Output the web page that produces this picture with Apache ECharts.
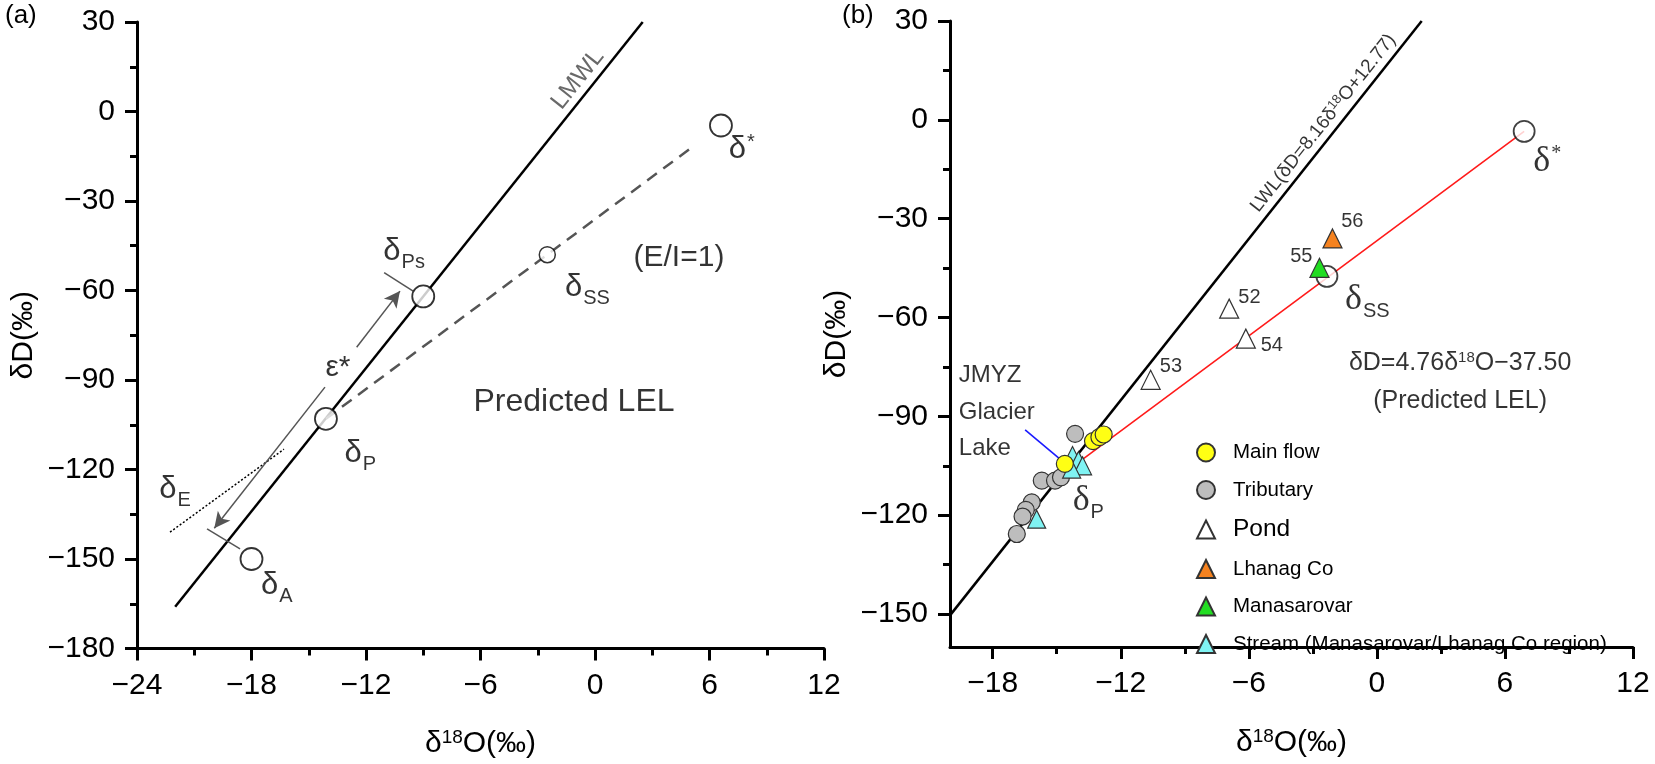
<!DOCTYPE html>
<html>
<head>
<meta charset="utf-8">
<script src="https://cdn.jsdelivr.net/npm/echarts@6/dist/echarts.min.js"></script>
<style>
  html, body { margin: 0; padding: 0; background: #fff; }
  #chart { width: 1655px; height: 764px; }
</style>
</head>
<body>
<div id="chart"></div>
<script>
// ---- panel (a): conceptual LEL diagram ----
const aTickLabelsY = [30, 0, -30, -60, -90, -120, -150, -180];
const aLMWL = [[-22, -166], [2.5, 30]];
const aLEL = [[-14.1, -103], [5.25, -11.2]];
const aDeltaE = [[-22.27, -141], [-16.3, -113.2]];
const aEpsUp = [[-12.49, -79], [-10.22, -60.2]];
const aEpsDown = [[-14.15, -92.4], [-19.95, -139.7]];
const aTickPs = [[-11.05, -54], [-9.53, -60.2]];
const aTickA = [[-20.33, -139.9], [-18.6, -146.6]];
const aBigPoints = [[-9.0, -62], [-14.1, -103], [-18, -150], [6.6, -4.7]];   // δPs, δP, δA, δ*
const aSmallPoints = [[-2.5, -48]];                                             // δSS

// ---- panel (b): observed waters ----
const bTicksX = [-18, -12, -6, 0, 6, 12];
const bMinorX = [-15, -9, -3, 3, 9];
const bTicksY = [-150, -120, -90, -60, -30, 0, 30];
const bMinorY = [-135, -105, -75, -45, -15, 15];
const bLWL = [[-20, -150.4], [2.1, 30]];
const bLEL = [[-14.8, -107.9], [6.9, -3.5]];
const bPointer = [[-16.48, -94.1], [-14.76, -103.4]];
const bRefPoints = [[-2.34, -47.5], [6.9, -3.5]];                               // δSS, δ*
const bMainFlow = [[-14.62, -104.4], [-13.3, -97.5], [-13.0, -96.3], [-12.8, -95.5]];
const bTributary = [[-14.14, -95.3], [-15.7, -109.5], [-15.08, -109.5], [-14.8, -108.5],
  [-16.17, -116.1], [-16.45, -118.4], [-16.6, -120.4], [-16.87, -125.7]];
const bPond = [[-6.92, -57.3], [-6.14, -66.4], [-10.6, -78.9]];
const bLhanag = [[-2.08, -36]];
const bManasarovar = [[-2.69, -44.9]];
const bStream = [[-14.26, -101.9], [-13.98, -103.4], [-13.79, -105], [-14.3, -106], [-15.94, -121.2]];

// text annotations: [x, y, rich text]
const aNotes = [
  [-10.0, -47, '{d|δ}{sub|Ps}'],
  [-0.4, -59, '{d|δ}{sub|SS}'],
  [4.4, -49, '{t|(E/I=1)}'],
  [-1.1, -97.3, '{tb|Predicted LEL}'],
  [-12.3, -114.5, '{d|δ}{sub|P}'],
  [-22.0, -126.6, '{d|δ}{sub|E}'],
  [-16.68, -158.8, '{d|δ}{sub|A}'],
  [7.69, -12.7, '{d|δ}{sup|*}'],
  [-13.47, -86, '{t|ε*}']
];
const aLineNote = [[-0.9, 10.8, 'LMWL']];
const bNotes = [
  [-0.45, -54.5, '{ds|δ}{subs|SS}'],
  [7.98, -12.8, '{ds|δ}{sups|*}'],
  [-13.52, -115.6, '{ds|δ}{subs|P}'],
  [-5.97, -53.8, '{n|52}'],
  [-4.92, -68.5, '{n|54}'],
  [-9.65, -74.9, '{n|53}'],
  [-3.54, -41.4, '{n|55}'],
  [-1.15, -30.8, '{n|56}'],
  [3.9, -73.8, '{e|δD=4.76δ}{esup|18}{e|O−37.50}'],
  [3.9, -85.3, '{e|(Predicted LEL)}']
];
const bLakeNote = [[-19.6, -77.6, 'JMYZ'], [-19.6, -88.8, 'Glacier'], [-19.6, -99.8, 'Lake']];
const bLineNote = [[-2.51, -1.0, '{w|LWL(δD=8.16δ}{wsup|18}{w|O+12.77)}']];

const FONT = 'Liberation Sans, Arial, sans-serif';
const SERIF = 'Liberation Serif, Times New Roman, serif';
const INK = '#000';
const RICH = {
  d: { fontSize: 31, fontFamily: FONT, color: INK },
  sub: { fontSize: 20, fontFamily: FONT, color: INK, padding: [22, 0, 0, 1] },
  sup: { fontSize: 20, fontFamily: FONT, color: INK, padding: [0, 0, 14, 1] },
  t: { fontSize: 30, fontFamily: FONT, color: INK },
  tb: { fontSize: 32, fontFamily: FONT, color: INK },
  ds: { fontSize: 36, fontFamily: SERIF, color: INK },
  subs: { fontSize: 20, fontFamily: FONT, color: INK, padding: [24, 0, 0, 1] },
  sups: { fontSize: 20, fontFamily: SERIF, color: INK, padding: [0, 0, 16, 1] },
  n: { fontSize: 20, fontFamily: FONT, color: INK },
  e: { fontSize: 25, fontFamily: FONT, color: INK },
  esup: { fontSize: 15, fontFamily: FONT, color: INK, padding: [0, 0, 10, 0] },
  w: { fontSize: 19, fontFamily: FONT, color: INK },
  wsup: { fontSize: 13, fontFamily: FONT, color: INK, padding: [0, 0, 8, 0] },
  ax: { fontSize: 30, fontFamily: FONT, color: INK },
  axsup: { fontSize: 19, fontFamily: FONT, color: INK, padding: [0, 0, 12, 0] }
};

const minus = v => String(v).replace('-', '−');

function lineSeries(xi, yi, data, style) {
  return {
    type: 'line', xAxisIndex: xi, yAxisIndex: yi, data: data,
    showSymbol: false, symbol: 'none', silent: true, z: 2,
    lineStyle: style
  };
}

function arrowSeries(xi, yi, data) {
  return {
    type: 'line', xAxisIndex: xi, yAxisIndex: yi, data: [], silent: true,
    markLine: {
      silent: true, animation: false, symbol: ['none', 'arrow'], symbolSize: [12, 16],
      label: { show: false },
      lineStyle: { color: '#555', width: 1.5, type: 'solid' },
      data: [[{ coord: data[0] }, { coord: data[1] }]]
    }
  };
}

function textSeries(xi, yi, notes, label) {
  return {
    type: 'scatter', xAxisIndex: xi, yAxisIndex: yi, silent: true, z: 6,
    symbol: 'rect', symbolSize: 0.5, itemStyle: { color: '#fff' },
    data: notes.map(n => ({ value: [n[0], n[1]], label: { formatter: n[2] } })),
    label: Object.assign({ show: true, position: 'inside', color: INK, textBorderWidth: 0, rich: RICH }, label)
  };
}

function pointSeries(name, data, symbol, size, color) {
  return {
    name: name, type: 'scatter', xAxisIndex: 1, yAxisIndex: 1, data: data,
    symbol: symbol, symbolSize: size, z: 4,
    itemStyle: { color: color, borderColor: '#333', borderWidth: 1.2, opacity: 1 }
  };
}

const axisBase = {
  type: 'value',
  splitLine: { show: false },
  axisLine: { show: true, onZero: false, lineStyle: { color: '#000', width: 3 } },
  axisTick: { show: true, length: 12, lineStyle: { color: '#000', width: 3 } },
  axisLabel: { fontSize: 30, fontFamily: FONT, color: INK, margin: 22, formatter: minus },
  nameLocation: 'middle',
  nameTextStyle: { fontSize: 30, fontFamily: FONT, color: INK, rich: RICH }
};
const minorBase = {
  type: 'value',
  splitLine: { show: false },
  axisLine: { show: false, onZero: false },
  axisLabel: { show: false },
  axisTick: { show: true, length: 7, lineStyle: { color: '#000', width: 3 } }
};

const legendText = { fontSize: 20.5, fontFamily: FONT, color: INK, padding: [0, 0, 0, 13] };

const chart = echarts.init(document.getElementById('chart'));

const option = {
  animation: false,
  backgroundColor: '#fff',
  grid: [
    { left: 137, top: 22, width: 687, height: 630 },
    { left: 950, top: 21, width: 683, height: 626 }
  ],
  graphic: [
    { type: 'text', left: 5, top: 3, style: { text: '(a)', fontSize: 26, fontFamily: FONT, fill: INK } },
    { type: 'text', left: 842, top: 3, style: { text: '(b)', fontSize: 26, fontFamily: FONT, fill: INK } }
  ],
  legend: {
    left: 1191, top: 437, orient: 'vertical', itemWidth: 18, itemHeight: 18, itemGap: 16.5,
    textStyle: legendText,
    data: [
      { name: 'Main flow' },
      { name: 'Tributary' },
      { name: 'Pond', textStyle: Object.assign({}, legendText, { fontSize: 24.5 }) },
      { name: 'Lhanag Co' },
      { name: 'Manasarovar' },
      { name: 'Stream (Manasarovar/Lhanag Co region)' }
    ]
  },
  xAxis: [
    Object.assign({}, axisBase, {
      gridIndex: 0, min: -24, max: 12, interval: 6, position: 'bottom',
      minorTick: { show: true, splitNumber: 2, length: 7, lineStyle: { color: '#000', width: 3 } },
      name: '{ax|δ}{axsup|18}{ax|O(‰)}', nameGap: 80
    }),
    Object.assign({}, axisBase, {
      gridIndex: 1, min: -20, max: 12, position: 'bottom',
      axisTick: Object.assign({}, axisBase.axisTick, { customValues: bTicksX }),
      axisLabel: Object.assign({}, axisBase.axisLabel, { customValues: bTicksX }),
      name: '{ax|δ}{axsup|18}{ax|O(‰)}', nameGap: 80
    }),
    Object.assign({}, minorBase, {
      gridIndex: 1, min: -20, max: 12, position: 'bottom',
      axisTick: Object.assign({}, minorBase.axisTick, { customValues: bMinorX })
    })
  ],
  yAxis: [
    Object.assign({}, axisBase, {
      gridIndex: 0, min: aTickLabelsY[aTickLabelsY.length - 1], max: aTickLabelsY[0], interval: 30, position: 'left',
      minorTick: { show: true, splitNumber: 2, length: 7, lineStyle: { color: '#000', width: 3 } },
      name: 'δD(‰)', nameGap: 98, nameRotate: 90
    }),
    Object.assign({}, axisBase, {
      gridIndex: 1, min: -160, max: 30, position: 'left',
      axisTick: Object.assign({}, axisBase.axisTick, { customValues: bTicksY }),
      axisLabel: Object.assign({}, axisBase.axisLabel, { customValues: bTicksY }),
      name: 'δD(‰)', nameGap: 98, nameRotate: 90
    }),
    Object.assign({}, minorBase, {
      gridIndex: 1, min: -160, max: 30, position: 'left',
      axisTick: Object.assign({}, minorBase.axisTick, { customValues: bMinorY })
    })
  ],
  series: [
    // panel (a)
    lineSeries(0, 0, aLMWL, { color: '#000', width: 2.5 }),
    lineSeries(0, 0, aLEL, { color: '#555', width: 2.5, type: [12, 8] }),
    lineSeries(0, 0, aDeltaE, { color: '#000', width: 1.5, type: [2, 2] }),
    lineSeries(0, 0, aTickPs, { color: '#555', width: 1.5 }),
    lineSeries(0, 0, aTickA, { color: '#555', width: 1.5 }),
    arrowSeries(0, 0, aEpsUp),
    arrowSeries(0, 0, aEpsDown),
    {
      type: 'scatter', xAxisIndex: 0, yAxisIndex: 0, data: aBigPoints, symbolSize: 22, z: 4, silent: true,
      itemStyle: { color: '#fff', borderColor: '#000', borderWidth: 1.8 }
    },
    {
      type: 'scatter', xAxisIndex: 0, yAxisIndex: 0, data: aSmallPoints, symbolSize: 16, z: 4, silent: true,
      itemStyle: { color: '#fff', borderColor: '#000', borderWidth: 1.5 }
    },
    textSeries(0, 0, aNotes, {}),
    textSeries(0, 0, aLineNote, { rotate: 51.5, fontSize: 24, fontFamily: FONT, color: '#444' }),

    // panel (b)
    lineSeries(1, 1, bLWL, { color: '#000', width: 2.5 }),
    lineSeries(1, 1, bLEL, { color: '#ff1a1a', width: 1.6 }),
    lineSeries(1, 1, bPointer, { color: '#1a1aff', width: 1.6 }),
    {
      type: 'scatter', xAxisIndex: 1, yAxisIndex: 1, data: bRefPoints, symbolSize: 21, z: 3, silent: true,
      itemStyle: { color: '#fff', borderColor: '#111', borderWidth: 1.8 }
    },
    pointSeries('Tributary', bTributary, 'circle', 17, '#bdbdbd'),
    pointSeries('Stream (Manasarovar/Lhanag Co region)', bStream, 'triangle', 18, '#7ff3f3'),
    pointSeries('Main flow', bMainFlow, 'circle', 17, '#ffff14'),
    pointSeries('Pond', bPond, 'triangle', 19, '#ffffff'),
    pointSeries('Lhanag Co', bLhanag, 'triangle', 19, '#f5821f'),
    pointSeries('Manasarovar', bManasarovar, 'triangle', 19, '#22dd22'),
    textSeries(1, 1, bNotes, {}),
    textSeries(1, 1, bLakeNote, { position: 'right', distance: 0, fontSize: 24, fontFamily: FONT, lineHeight: 28 }),
    textSeries(1, 1, bLineNote, { rotate: 51.5 })
  ]
};

chart.setOption(option);
window.addEventListener('resize', () => chart.resize());
</script>
</body>
</html>
